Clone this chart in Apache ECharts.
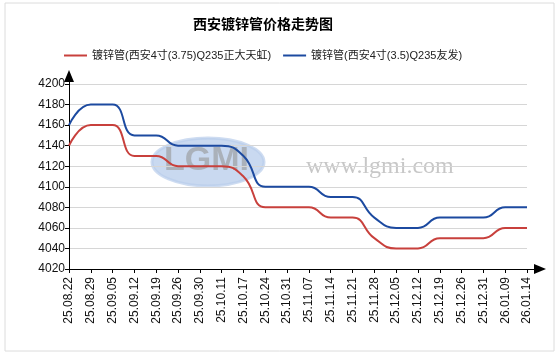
<!DOCTYPE html>
<html>
<head>
<meta charset="utf-8">
<script src="https://cdn.jsdelivr.net/npm/echarts@6/dist/echarts.min.js"></script>
<style>
html,body{margin:0;padding:0;background:#fff;}
#c{width:559px;height:357px;}
</style>
</head>
<body>
<div id="c"></div>
<script>
const categories = ['25.08.22','25.08.29','25.09.05','25.09.12','25.09.19','25.09.26','25.09.30','25.10.11','25.10.17','25.10.24','25.10.31','25.11.07','25.11.14','25.11.21','25.11.28','25.12.05','25.12.12','25.12.19','25.12.26','25.12.31','26.01.09','26.01.14'];
const seriesRedName = '镀锌管(西安4寸(3.75)Q235正大天虹)';
const seriesRed = [4140,4160,4160,4130,4130,4120,4120,4120,4110,4080,4080,4080,4070,4070,4050,4040,4040,4050,4050,4050,4060,4060];
const seriesBlueName = '镀锌管(西安4寸(3.5)Q235友发)';
const seriesBlue = [4160,4180,4180,4150,4150,4140,4140,4140,4130,4100,4100,4100,4090,4090,4070,4060,4060,4070,4070,4070,4080,4080];
const yMin = 4020, yMax = 4200, yStep = 20;

const chart = echarts.init(document.getElementById('c'), null, {renderer:'canvas'});
const font = 'Arial, "Liberation Sans", "Noto Sans CJK SC", sans-serif';
chart.setOption({
  animation:false,
  backgroundColor:'#fff',
  title:{
    text:'西安镀锌管价格走势图',
    left:188, top:12,
    textStyle:{fontSize:14,fontWeight:'bold',color:'#000',fontFamily:'"Noto Sans CJK SC", sans-serif'}
  },
  legend:{
    top:45, left:59,
    itemWidth:23, itemHeight:2, itemGap:12,
    icon:'rect',
    textStyle:{fontSize:11,color:'#222',fontFamily:font},
    data:[seriesRedName, seriesBlueName]
  },
  graphic:[
    {type:'rect', shape:{x:5,y:3,width:549,height:348}, style:{fill:'none',stroke:'#dcdcdc',lineWidth:1}, silent:true, z:-10},
    {type:'ellipse', shape:{cx:208,cy:162,rx:56,ry:24}, style:{fill:'rgba(165,192,230,0.6)',stroke:'rgba(185,205,235,0.7)',lineWidth:3}, silent:true, z:-5},
    {type:'text', left:164, top:144, style:{text:'LGMI', font:'bold 34px Arial, sans-serif', fill:'rgba(150,150,150,0.6)'}, silent:true, z:-4},
    {type:'text', left:306, top:155, style:{text:'www.lgmi.com', font:'24px "Liberation Serif", "DejaVu Serif", serif', fill:'rgba(180,180,180,0.75)'}, silent:true, z:-4}
  ],
  grid:[
    {left:69, right:32, top:84, bottom:88},
    {left:69, right:19, top:76, bottom:88}
  ],
  xAxis:[
    {
      type:'category', gridIndex:0, data:categories, boundaryGap:false,
      axisLine:{show:false},
      axisTick:{show:true,length:4,lineStyle:{color:'#000'}},
      axisLabel:{rotate:90, fontSize:12, color:'#111', margin:8, fontFamily:font, interval:0},
      splitLine:{show:false}
    },
    {
      type:'value', gridIndex:1, min:0, max:1,
      axisLine:{show:true, symbol:['none','triangle'], symbolSize:[10,12], lineStyle:{color:'#000',width:1}},
      axisTick:{show:false}, axisLabel:{show:false}, splitLine:{show:false}
    }
  ],
  yAxis:[
    {
      type:'value', gridIndex:0, min:yMin, max:yMax, interval:yStep,
      axisLine:{show:false},
      axisTick:{show:true,length:4,lineStyle:{color:'#000'}},
      axisLabel:{fontSize:12, color:'#111', margin:4, fontFamily:font, formatter:function(v){return String(v);}},
      splitLine:{show:true, lineStyle:{color:'#d6d6d6',width:1}}
    },
    {
      type:'value', gridIndex:1, min:0, max:1,
      axisLine:{show:true, symbol:['none','triangle'], symbolSize:[10,12], lineStyle:{color:'#000',width:1}},
      axisTick:{show:false}, axisLabel:{show:false}, splitLine:{show:false}
    }
  ],
  series:[
    {
      name:seriesRedName, type:'line', xAxisIndex:0, yAxisIndex:0, data:seriesRed,
      smooth:0.5, showSymbol:false, symbol:'none',
      itemStyle:{color:'#c8403c'}, lineStyle:{color:'#c8403c',width:2}
    },
    {
      name:seriesBlueName, type:'line', xAxisIndex:0, yAxisIndex:0, data:seriesBlue,
      smooth:0.5, showSymbol:false, symbol:'none',
      itemStyle:{color:'#1c4aa0'}, lineStyle:{color:'#1c4aa0',width:2}
    }
  ]
});
</script>
</body>
</html>
